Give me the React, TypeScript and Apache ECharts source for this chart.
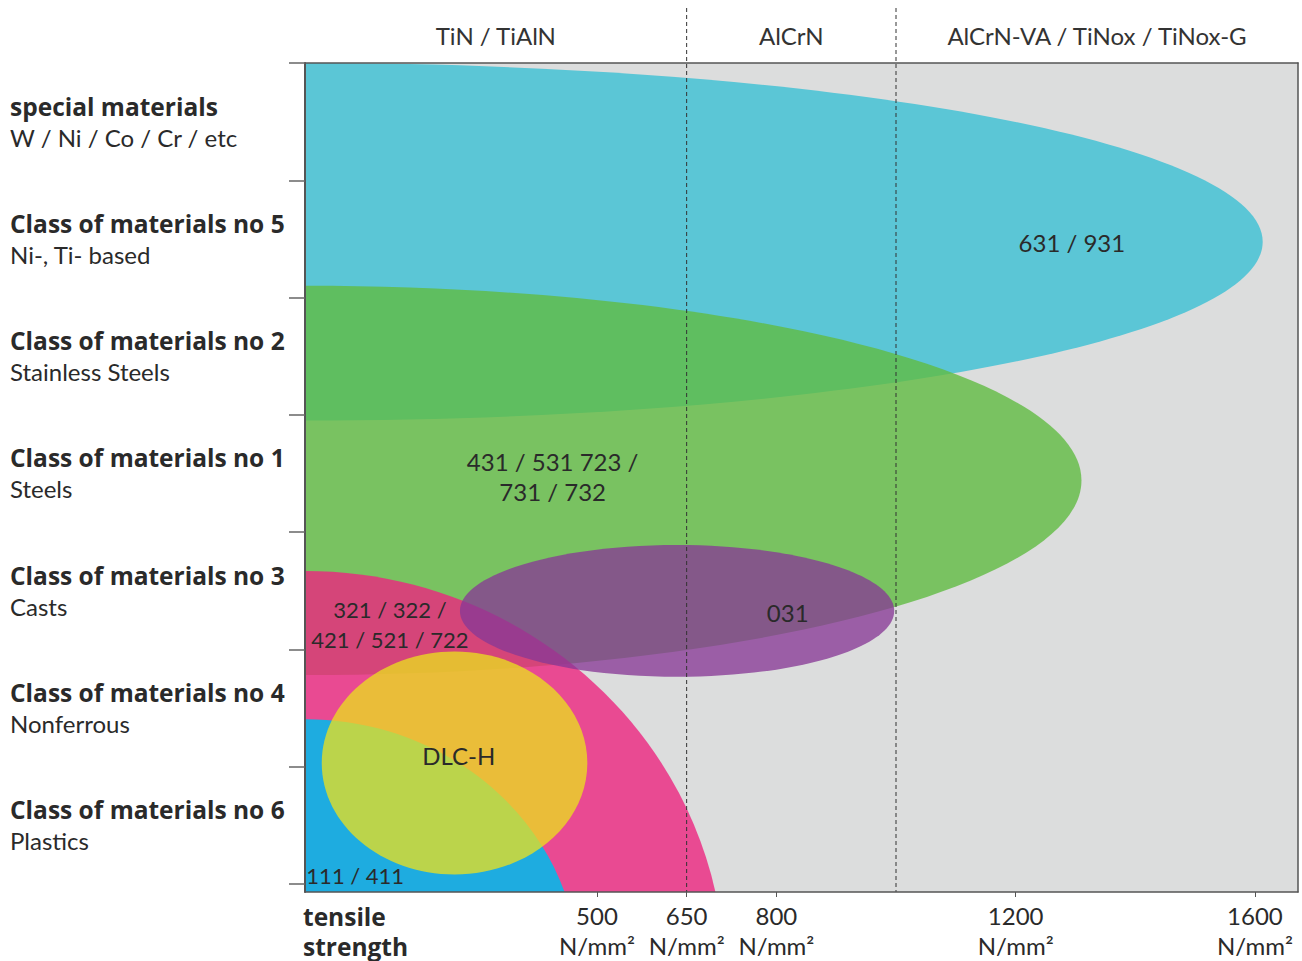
import React, { useEffect, useRef } from 'react';
import * as echarts from 'echarts';

// ---------- data ----------
// material classes, listed from the bottom band to the top band
const classTitles = [
  'Class of materials no 6',
  'Class of materials no 4',
  'Class of materials no 3',
  'Class of materials no 1',
  'Class of materials no 2',
  'Class of materials no 5',
  'special materials',
];
const classSubtitles = [
  'Plastics',
  'Nonferrous',
  'Casts',
  'Steels',
  'Stainless Steels',
  'Ni-, Ti- based',
  'W / Ni / Co / Cr / etc',
];

// tensile strength axis (N/mm²)
const X_MIN = 12;
const X_MAX = 1672;
const strengthTicks = [500, 650, 800, 1200, 1600];

// band axis (one unit per material class)
const Y_MIN = -0.07;
const Y_MAX = 7;
const bandBounds = [0, 1, 2, 3, 4, 5, 6, 7];

// coating zones along the strength axis
const coatingNames = ['TiN / TiAlN', 'AlCrN', 'AlCrN-VA / TiNox / TiNox-G'];
const coatingBounds = [650, 1000];

// application areas (ellipses), drawn in this order
const areaNames = ['cyan', 'green', 'pink', 'blue', 'purple', 'yellow'];
const areaCenterX = [12, 12, 12, 12, 634, 262];
const areaCenterY = [5.475, 3.44, -0.809, -0.766, 2.327, 1.03];
const areaRadiusX = [1601, 1298, 702, 458, 363, 222];
const areaRadiusY = [1.524, 1.66, 3.477, 2.17, 0.562, 0.951];

// grade labels inside the areas
const gradeLabels = [
  '631 / 931',
  '431 / 531 723 /\n731 / 732',
  '031',
  '321 / 322 /\n421 / 521 / 722',
  'DLC-H',
  '111 / 411',
];
const gradeLabelX = [1294, 426, 819, 154, 269, 96];
const gradeLabelY = [5.467, 3.474, 2.316, 2.21, 1.09, 0.068];

// ---------- styles ----------
const FONT = 'Lato, "Open Sans", sans-serif';
const BOLD_FONT = '"Open Sans", "Noto Sans", sans-serif';
const BOLD_SIZE = 24.5;
const TEXT = '#2a2a2a';
const AXIS = '#555555';
const AREA_COLORS: Record<string, string> = {
  cyan: '#5bc6d6',
  green: 'rgba(96,187,66,0.8)',
  pink: 'rgba(236,38,128,0.8)',
  blue: '#1eace0',
  purple: 'rgba(135,56,149,0.77)',
  yellow: 'rgba(234,224,30,0.77)',
};
// labels set with tighter type in the original
const COMPACT_LABELS = new Set([3, 5]);
const HEADER_EXT = 55;

export default function App() {
  const ref = useRef<HTMLDivElement>(null);

  useEffect(() => {
    if (!ref.current) return;
    const chart = echarts.init(ref.current, undefined, { renderer: 'svg' });

    const zoneEdges = [X_MIN, ...coatingBounds, X_MAX];
    const zoneMids = coatingNames.map((_, i) => (zoneEdges[i] + zoneEdges[i + 1]) / 2);
    const bandMids = classTitles.map((_, i) => i + 0.5);

    const option: any = {
      animation: false,
      backgroundColor: '#ffffff',
      grid: {
        left: 305,
        right: 4,
        top: 63,
        bottom: 68,
        show: true,
        backgroundColor: '#dcdddd',
        borderWidth: 0,
      },
      xAxis: [
        {
          type: 'value',
          position: 'bottom',
          min: X_MIN,
          max: X_MAX,
          z: 10,
          splitLine: { show: false },
          axisLine: { show: true, onZero: false, lineStyle: { color: AXIS, width: 1.5 } },
          axisTick: {
            show: true,
            customValues: strengthTicks,
            length: 5,
            lineStyle: { color: AXIS, width: 1 },
          },
          axisLabel: {
            show: true,
            customValues: strengthTicks,
            margin: 8,
            formatter: (v: number) => `{v|${v}}\n{u|N/mm²}`,
            rich: {
              v: { fontFamily: FONT, fontSize: 24, lineHeight: 30, color: TEXT, align: 'center' },
              u: { fontFamily: FONT, fontSize: 24, lineHeight: 30, color: TEXT, align: 'center' },
            },
          },
          name: 'tensile\nstrength',
          nameLocation: 'start',
          nameGap: 2,
          nameTextStyle: {
            fontFamily: BOLD_FONT,
            fontSize: BOLD_SIZE,
            fontWeight: 'bold',
            lineHeight: 30,
            color: TEXT,
            align: 'left',
            verticalAlign: 'top',
            padding: [9, 0, 0, 0],
          },
        },
        {
          type: 'value',
          position: 'top',
          min: X_MIN,
          max: X_MAX,
          z: 10,
          splitLine: { show: false },
          axisLine: { show: true, onZero: false, lineStyle: { color: AXIS, width: 1.5 } },
          axisTick: { show: false },
          axisLabel: {
            show: true,
            customValues: zoneMids,
            margin: 13,
            formatter: (v: number) => coatingNames[zoneMids.indexOf(v)] ?? '',
            fontFamily: FONT,
            fontSize: 24,
            lineHeight: 30,
            color: '#333333',
          },
        },
      ],
      yAxis: [
        {
          type: 'value',
          position: 'left',
          min: Y_MIN,
          max: Y_MAX,
          z: 10,
          splitLine: { show: false },
          axisLine: { show: true, onZero: false, lineStyle: { color: AXIS, width: 2 } },
          axisTick: {
            show: true,
            customValues: bandBounds,
            length: 16,
            lineStyle: { color: '#666666', width: 1.5 },
          },
          axisLabel: {
            show: true,
            customValues: bandMids,
            margin: 295,
            align: 'left',
            formatter: (v: number) => {
              const i = Math.floor(v);
              return `{b|${classTitles[i]}}\n{r|${classSubtitles[i]}}`;
            },
            rich: {
              b: { fontFamily: BOLD_FONT, fontSize: BOLD_SIZE, fontWeight: 'bold', lineHeight: 31, color: TEXT },
              r: { fontFamily: FONT, fontSize: 24, lineHeight: 31, color: TEXT },
            },
          },
        },
        {
          type: 'value',
          position: 'right',
          min: Y_MIN,
          max: Y_MAX,
          z: 10,
          splitLine: { show: false },
          axisLine: { show: true, onZero: false, lineStyle: { color: AXIS, width: 1.5 } },
          axisTick: { show: false },
          axisLabel: { show: false },
        },
      ],
      series: [
        {
          name: 'areas',
          type: 'custom',
          clip: true,
          z: 2,
          xAxisIndex: 0,
          yAxisIndex: 0,
          data: areaNames.map((_, i) => [areaCenterX[i], areaCenterY[i], areaRadiusX[i], areaRadiusY[i]]),
          renderItem: (params: any, api: any) => {
            const c = api.coord([api.value(0), api.value(1)]);
            const s = api.size([api.value(2), api.value(3)]);
            return {
              type: 'ellipse',
              shape: { cx: c[0], cy: c[1], rx: s[0], ry: s[1] },
              style: { fill: AREA_COLORS[areaNames[params.dataIndex]] },
            };
          },
        },
        {
          name: 'zones',
          type: 'custom',
          clip: false,
          z: 5,
          xAxisIndex: 0,
          yAxisIndex: 0,
          data: coatingBounds.map((b) => [b, Y_MIN]),
          renderItem: (params: any, api: any) => {
            const top = api.coord([api.value(0), Y_MAX]);
            const bottom = api.coord([api.value(0), Y_MIN]);
            return {
              type: 'line',
              shape: { x1: top[0], y1: top[1] - HEADER_EXT, x2: bottom[0], y2: bottom[1] },
              style: { stroke: '#333333', lineWidth: 1, lineDash: [4, 3] },
            };
          },
        },
        {
          name: 'grades',
          type: 'custom',
          clip: false,
          z: 6,
          xAxisIndex: 0,
          yAxisIndex: 0,
          data: gradeLabels.map((_, i) => [gradeLabelX[i], gradeLabelY[i]]),
          renderItem: (params: any, api: any) => {
            const p = api.coord([api.value(0), api.value(1)]);
            const compact = COMPACT_LABELS.has(params.dataIndex);
            return {
              type: 'text',
              x: p[0],
              y: p[1],
              style: {
                text: gradeLabels[params.dataIndex],
                fill: TEXT,
                fontFamily: FONT,
                fontSize: compact ? 22 : 24,
                lineHeight: 30,
                align: 'center',
                verticalAlign: 'middle',
              },
            };
          },
        },
      ],
    };

    chart.setOption(option);
    return () => chart.dispose();
  }, []);

  return (
    <div
      ref={ref}
      style={{ position: 'fixed', left: 0, top: 0, width: 1302, height: 961, background: '#fff' }}
    />
  );
}
